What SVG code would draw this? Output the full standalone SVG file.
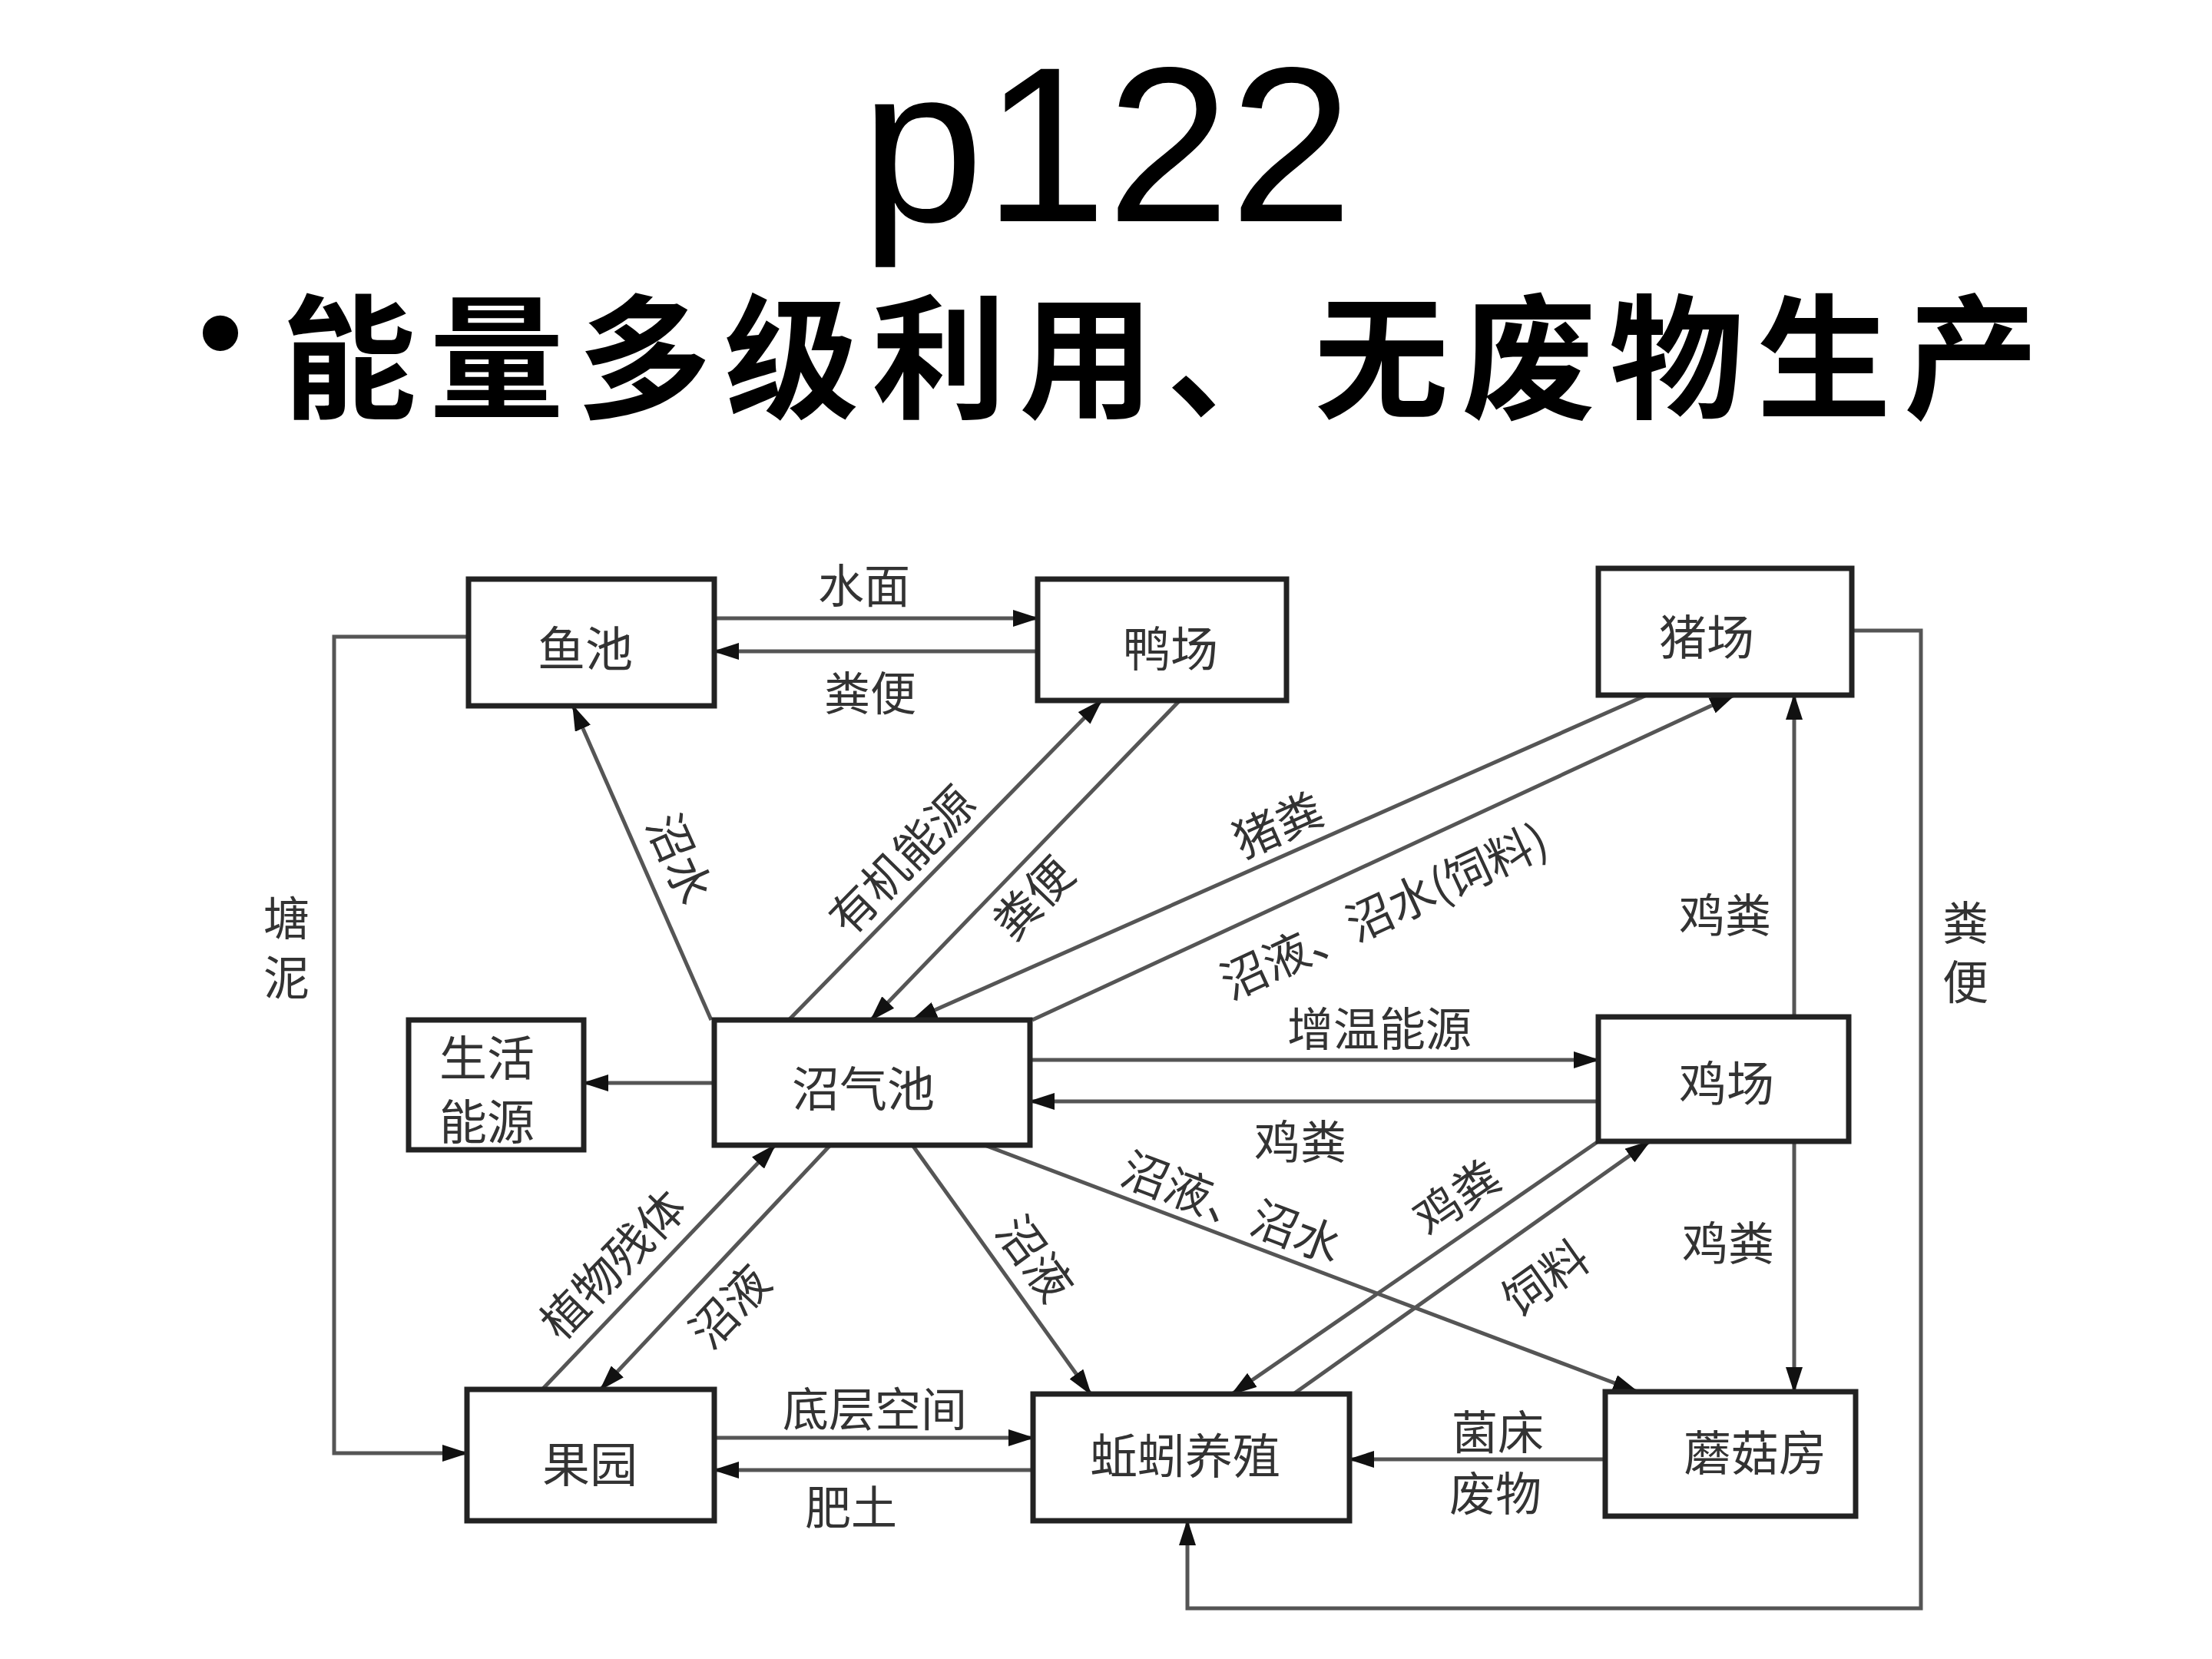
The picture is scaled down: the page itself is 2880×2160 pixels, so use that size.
<svg xmlns="http://www.w3.org/2000/svg" width="2880" height="2160" viewBox="0 0 2880 2160">
<style>
.box{fill:#fff;stroke:#222;stroke-width:7}
.c{fill:none;stroke:#555;stroke-width:5}
.t{font-family:"Noto Sans CJK SC",sans-serif;font-size:60px;fill:#333;text-anchor:middle;dominant-baseline:central}
.v{font-family:"Noto Sans CJK SC",sans-serif;font-size:60px;fill:#333;writing-mode:vertical-rl;letter-spacing:17px}
.n{font-family:"Noto Sans CJK SC",sans-serif;font-size:62px;fill:#333;text-anchor:middle;dominant-baseline:central}
</style>
<defs>
<marker id="ah" markerUnits="userSpaceOnUse" markerWidth="34" markerHeight="22" refX="32" refY="11" orient="auto">
<path d="M0,0 L34,11 L0,22 z" fill="#111"/>
</marker>
</defs>
<rect width="2880" height="2160" fill="#fff"/>
<text x="1441" y="288" font-family="Liberation Sans, Arial, sans-serif" font-size="288" text-anchor="middle" fill="#000">p122</text>
<text x="287" y="490" font-family="Liberation Sans, Arial, sans-serif" font-size="170" text-anchor="middle" fill="#000">•</text>
<text x="367" y="531" font-family="'Noto Sans CJK SC', sans-serif" font-size="175" font-weight="bold" letter-spacing="17" fill="#000">能量多级利用、无废物生产</text>

<g id="connectors">
<path class="c" d="M930,805 L1351,805" marker-end="url(#ah)"/>
<path class="c" d="M1351,848 L930,848" marker-end="url(#ah)"/>
<path class="c" d="M926,1328 L746,919" marker-end="url(#ah)"/>
<path class="c" d="M1027,1328 L1434,912" marker-end="url(#ah)"/>
<path class="c" d="M1536,912 L1134,1328" marker-end="url(#ah)"/>
<path class="c" d="M2144,905 L1188,1328" marker-end="url(#ah)"/>
<path class="c" d="M1344,1328 L2258,905" marker-end="url(#ah)"/>
<path class="c" d="M930,1410 L760,1410" marker-end="url(#ah)"/>
<path class="c" d="M1341,1380 L2081,1380" marker-end="url(#ah)"/>
<path class="c" d="M2081,1434 L1341,1434" marker-end="url(#ah)"/>
<path class="c" d="M2336,1324 L2336,905" marker-end="url(#ah)"/>
<path class="c" d="M2336,1486 L2336,1812" marker-end="url(#ah)"/>
<path class="c" d="M2411,821 L2501,821 L2501,2094 L1546,2094 L1546,1980" marker-end="url(#ah)"/>
<path class="c" d="M610,829 L435,829 L435,1892 L608,1892" marker-end="url(#ah)"/>
<path class="c" d="M706,1809 L1009,1491" marker-end="url(#ah)"/>
<path class="c" d="M1081,1491 L782,1809" marker-end="url(#ah)"/>
<path class="c" d="M1188,1491 L1420,1815" marker-end="url(#ah)"/>
<path class="c" d="M1282,1491 L2132,1812" marker-end="url(#ah)"/>
<path class="c" d="M2081,1486 L1604,1815" marker-end="url(#ah)"/>
<path class="c" d="M1684,1815 L2148,1486" marker-end="url(#ah)"/>
<path class="c" d="M930,1872 L1345,1872" marker-end="url(#ah)"/>
<path class="c" d="M1345,1914 L930,1914" marker-end="url(#ah)"/>
<path class="c" d="M2090,1900 L1757,1900" marker-end="url(#ah)"/>

<text class="t" x="1125" y="758">水面</text>
<text class="t" x="1133" y="898">粪便</text>
<text class="t" transform="translate(889,1116) rotate(66)">沼水</text>
<text class="t" transform="translate(1171,1117) rotate(-45.6)">有机能源</text>
<text class="t" transform="translate(1342,1166) rotate(-46)">粪便</text>
<text class="t" transform="translate(1662,1070) rotate(-24)">猪粪</text>
<text class="t" transform="translate(1800,1182) rotate(-24.8)">沼液、沼水(饲料)</text>
<text class="t" x="1796" y="1335">增温能源</text>
<text class="t" x="1693" y="1482">鸡粪</text>
<text class="t" x="2246" y="1187">鸡粪</text>
<text class="t" x="2250" y="1614">鸡粪</text>
<text class="v" x="2559" y="1171">粪便</text>
<text class="v" x="373" y="1165">塘泥</text>
<text class="t" transform="translate(795,1643) rotate(-46)">植物残体</text>
<text class="t" transform="translate(947,1698) rotate(-46.8)">沼液</text>
<text class="t" transform="translate(1351,1636) rotate(54)">沼液</text>
<text class="t" transform="translate(1605,1568) rotate(20.7)">沼液、沼水</text>
<text class="t" transform="translate(1894,1555) rotate(-34.6)">鸡粪</text>
<text class="t" transform="translate(2010,1660) rotate(-35.3)">饲料</text>
<text class="t" x="1139" y="1830">底层空间</text>
<text class="t" x="1108" y="1958">肥土</text>
<text class="t" x="1950" y="1860">菌床</text>
<text class="t" x="1947" y="1940">废物</text>
</g>

<g id="n-yuchi"><rect class="box" x="610" y="754" width="320" height="165"/><text class="n" x="762" y="841">鱼池</text></g>
<g id="n-yachang"><rect class="box" x="1351" y="754" width="324" height="158"/><text class="n" x="1524" y="841">鸭场</text></g>
<g id="n-zhuchang"><rect class="box" x="2081" y="740" width="330" height="165"/><text class="n" x="2222" y="826">猪场</text></g>
<g id="n-zhaoqichi"><rect class="box" x="930" y="1328" width="411" height="163"/><text class="n" x="1124" y="1414">沼气池</text></g>
<g id="n-shenghuo"><rect class="box" x="532" y="1328" width="228" height="169"/><text class="n" x="634" y="1374">生活</text><text class="n" x="634" y="1457">能源</text></g>
<g id="n-jichang"><rect class="box" x="2081" y="1324" width="326" height="162"/><text class="n" x="2248" y="1407">鸡场</text></g>
<g id="n-guoyuan"><rect class="box" x="608" y="1809" width="322" height="171"/><text class="n" x="768" y="1903">果园</text></g>
<g id="n-qiuyin"><rect class="box" x="1345" y="1815" width="412" height="165"/><text class="n" x="1543" y="1892">蚯蚓养殖</text></g>
<g id="n-mogu"><rect class="box" x="2090" y="1812" width="326" height="162"/><text class="n" x="2285" y="1888">蘑菇房</text></g>
</svg>
